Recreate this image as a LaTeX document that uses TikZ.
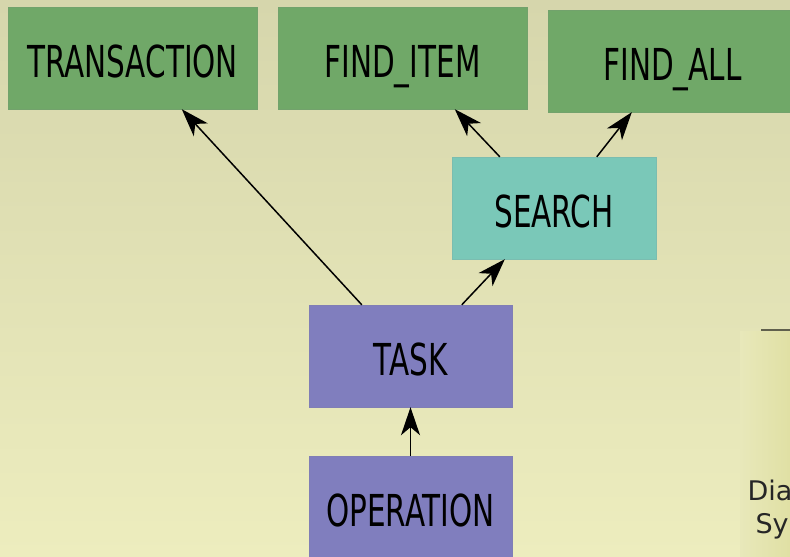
\documentclass[tikz,border=0pt]{standalone}
\usepackage{fontspec}
\setmainfont{DejaVu Sans}
\newfontfamily\boxfont[FakeStretch=0.67]{DejaVu Sans}
\usetikzlibrary{arrows.meta,calc}
\definecolor{bgtop}{RGB}{214,214,172}
\definecolor{bgbot}{RGB}{237,237,190}
\definecolor{panel}{RGB}{224,224,164}
\definecolor{greenbox}{RGB}{112,168,104}
\definecolor{tealbox}{RGB}{122,200,184}
\definecolor{purplebox}{RGB}{128,126,190}
\tikzset{
  box/.style={rectangle, draw=#1!85!gray, line width=0.4pt, fill=#1, minimum width=249pt, minimum height=102pt,
    inner sep=0pt, text height=38pt, text depth=0pt, font=\boxfont\fontsize{44}{48}\selectfont, text=black},
  conn/.style={-{Stealth[length=28pt,width=19pt,inset=8pt]}, line width=1.5pt, black}
}
\begin{document}
\begin{tikzpicture}[x=1pt,y=-1pt]
\useasboundingbox (0,0) rectangle (790,557);
\clip (0,0) rectangle (790,557);
\shade[top color=bgtop, bottom color=bgbot] (0,0) rectangle (790,557);
\shade[left color=bgbot!78!bgtop, right color=panel] (740,331) rectangle (790,557);
\draw[line width=2pt, color=black!55!bgtop] (761,330) -- (790,330);
\node[anchor=west, font=\fontsize{27}{30}\selectfont, text=black!85] (dia) at (744,490) {Dia};
\node[anchor=west, font=\fontsize{27}{30}\selectfont, text=black!85] (sy) at (752,526) {Sy};
\node[box=greenbox] (transaction) at (132.5,58) {TRANSACTION};
\node[box=greenbox] (finditem) at (402.5,58) {FIND\_ITEM};
\node[box=greenbox] (findall) at (672.5,61) {FIND\_ALL};
\node[box=tealbox, minimum width=204pt] (search) at (554,208) {SEARCH};
\node[box=purplebox, minimum width=203pt] (task) at (410.5,356) {TASK};
\node[box=purplebox, minimum width=203pt] (operation) at (410.5,507) {OPERATION};
\draw[conn] ([xshift=53pt]task.north west) -- ([xshift=174pt]transaction.south west);
\draw[conn] ([xshift=153pt]task.north west) -- ([xshift=53pt]search.south west);
\draw[conn] ([xshift=48pt]search.north west) -- ([xshift=177pt]finditem.south west);
\draw[conn] ([xshift=145pt]search.north west) -- ([xshift=84pt]findall.south west);
\draw[conn] (operation.north) -- (task.south);
\end{tikzpicture}
\end{document}
